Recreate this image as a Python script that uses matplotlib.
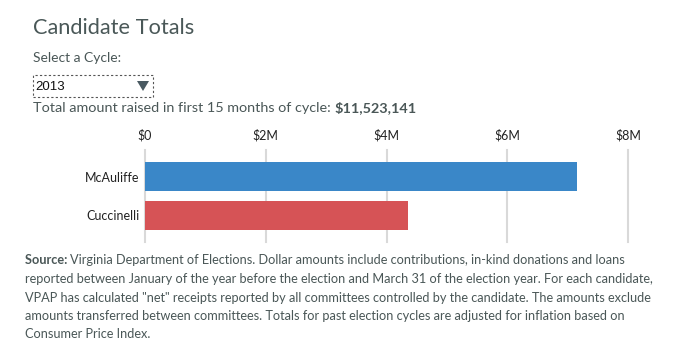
import matplotlib
matplotlib.use("Agg")
import matplotlib.pyplot as plt
from matplotlib.patches import Rectangle, Polygon

candidates = ["McAuliffe", "Cuccinelli"]
amounts = [7.16e6, 4.36e6]
colors = ["#3a87c8", "#d65356"]
ticks = [0, 2e6, 4e6, 6e6, 8e6]
tick_labels = ["$0", "$2M", "$4M", "$6M", "$8M"]
cycle = "2013"
total = "$11,523,141"
source_lines = [
    "Virginia Department of Elections. Dollar amounts include contributions, in-kind donations and loans",
    "reported between January of the year before the election and March 31 of the election year. For each candidate,",
    "VPAP has calculated \"net\" receipts reported by all committees controlled by the candidate. The amounts exclude",
    "amounts transferred between committees. Totals for past election cycles are adjusted for inflation based on",
    "Consumer Price Index.",
]

W, H = 681, 360
fig = plt.figure(figsize=(W / 100, H / 100), dpi=100)
fig.patch.set_facecolor("white")

def P(x, y):
    return (x / W, 1 - y / H)

TXT = "#4a5757"
FONT = "Lato"

fig.text(*P(33, 28), "Candidate Totals", fontsize=15.7, family=FONT, color="#4a5858", va="center", ha="left")
fig.text(*P(33, 58), "Select a Cycle:", fontsize=10, family=FONT, color=TXT, va="center", ha="left")

# dropdown
x0, y0 = P(33, 97)
x1, y1 = P(153, 75)
fig.patches.append(Rectangle((x0, y0), x1 - x0, y1 - y0, transform=fig.transFigure,
                             fill=False, edgecolor="#555555", linestyle=(0, (2, 2)), linewidth=0.8))
fig.text(*P(35, 86.5), cycle, fontsize=9.5, family="Liberation Sans", color="#111111", va="center", ha="left")
tri = [P(137, 81), P(149, 81), P(143, 91)]
fig.patches.append(Polygon(tri, closed=True, transform=fig.transFigure, facecolor="#4a5a62", edgecolor="none"))

t = fig.text(*P(33, 108), "Total amount raised in first 15 months of cycle: ", fontsize=10.35, family=FONT,
             color=TXT, va="center", ha="left")
renderer = fig.canvas.get_renderer()
bb = t.get_window_extent(renderer)
fig.text(bb.x1 / W, 1 - 108 / H, total, fontsize=10.35, family=FONT, weight="bold", color=TXT,
         va="center", ha="left")

# axes
ax = fig.add_axes([145 / W, 1 - 242 / H, (628 - 145) / W, (242 - 150) / H])
y = [0, 1]
ax.barh(y, amounts, height=0.72, color=colors, zorder=3)
ax.set_ylim(1.68, -0.68)
ax.set_xlim(0, 8e6)
ax.set_xticks(ticks)
ax.set_xticklabels(tick_labels)
ax.xaxis.tick_top()
ax.tick_params(axis="x", length=0, pad=6, labelsize=9, labelcolor="#222222")
ax.set_yticks(y)
ax.set_yticklabels(candidates)
ax.tick_params(axis="y", length=0, pad=4, labelsize=9, labelcolor="#222222")
for lab in ax.get_xticklabels() + ax.get_yticklabels():
    lab.set_family(FONT)
ax.grid(axis="x", color="#d9d9d9", linewidth=1.5, zorder=0)
for s in ax.spines.values():
    s.set_visible(False)
for gl in ax.get_xgridlines():
    gl.set_clip_on(False)

# source
ys = [260, 279, 297.5, 316, 334.5]
for i, (line, yy) in enumerate(zip(source_lines, ys)):
    if i == 0:
        s = fig.text(*P(25, yy), "Source: ", fontsize=9.2, family=FONT, weight="bold", color=TXT,
                     va="center", ha="left")
        b = s.get_window_extent(renderer)
        fig.text(b.x1 / W, 1 - yy / H, line, fontsize=9.2, family=FONT, color=TXT, va="center", ha="left")
    else:
        fig.text(*P(25, yy), line, fontsize=9.2, family=FONT, color=TXT, va="center", ha="left")

fig.savefig("out.png", dpi=100, facecolor="white")
